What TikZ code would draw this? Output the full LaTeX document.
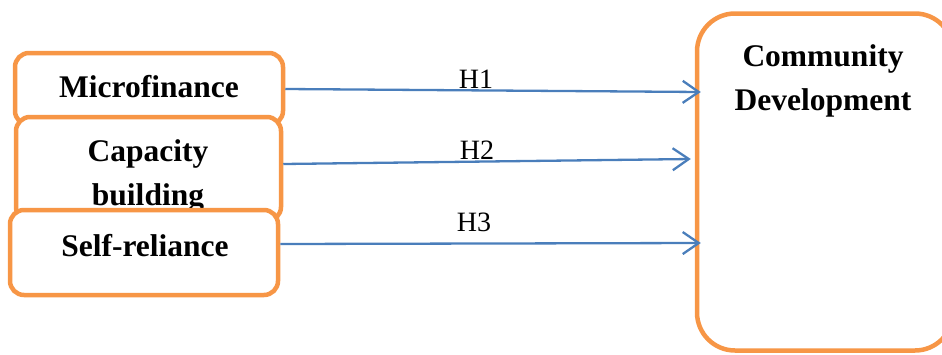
\documentclass[tikz,border=0pt]{standalone}
\usepackage{fontspec}
\setmainfont{Liberation Serif}
\usetikzlibrary{arrows.meta,calc}
\definecolor{borange}{HTML}{F79646}
\definecolor{ablue}{HTML}{4A7EBB}
\begin{document}
\begin{tikzpicture}[x=1pt,y=-1pt,
  box/.style={draw=borange, line width=4.5pt, fill=white, rounded corners=14pt, inner sep=0pt},
  btext/.style={font=\fontsize{31.5}{40}\selectfont\bfseries, align=center, inner sep=0pt},
  hyp/.style={draw=ablue, line width=2.3pt, -{Straight Barb[length=16pt,width=22pt]}},
  hlabel/.style={font=\fontsize{28}{30}\selectfont, inner sep=0pt}]
\useasboundingbox (0,0) rectangle (942,354);
\begin{scope}
\clip (0,0) rectangle (942,354);
\node[box, minimum width=268pt, minimum height=72pt] (b1) at (149,89) {};
\node[btext, anchor=base] (t1) at (149,97) {Microfinance};
\node[box, minimum width=265pt, minimum height=104pt] (b2) at (148.5,169) {};
\node[btext, anchor=base] (t2a) at (148,161) {Capacity};
\node[btext, anchor=base] (t2b) at (148,205) {building};
\node[box, minimum width=268pt, minimum height=85pt] (b3) at (144,252.5) {};
\node[btext, anchor=base] (t3) at (145,256) {Self-reliance};
\node[box, rounded corners=38pt, minimum width=256pt, minimum height=337pt] (cd) at (825,182) {};
\node[btext, anchor=base] (tcd1) at (823,66) {Community};
\node[btext, anchor=base] (tcd2) at (823,110) {Development};
\draw[hyp] (b1.east) -- ($(cd.west)+(6,-90)$);
\draw[hyp] ($(b2.east)+(0,-5)$) -- ($(cd.west)+(-4,-23)$);
\draw[hyp] ($(b3.east)+(0,-8.5)$) -- ($(cd.west)+(6,61)$);
\node[hlabel] (h1) at (476,79) {H1};
\node[hlabel] (h2) at (477,150) {H2};
\node[hlabel] (h3) at (474,222) {H3};
\end{scope}
\end{tikzpicture}
\end{document}
